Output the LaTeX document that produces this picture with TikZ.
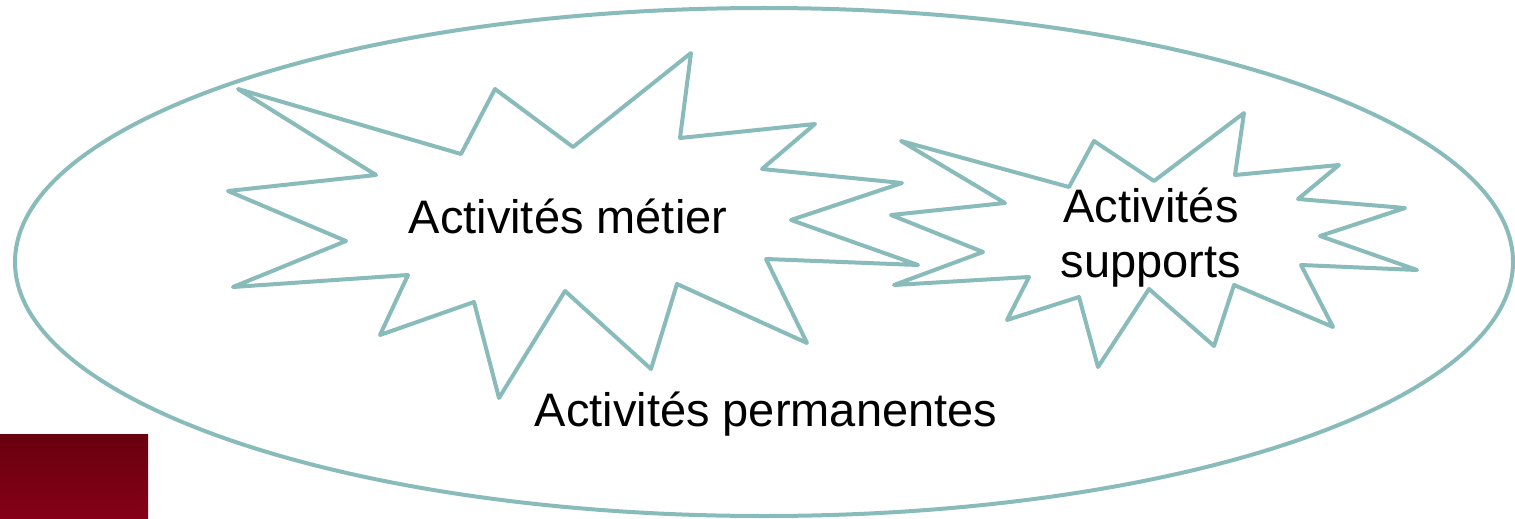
\documentclass[tikz,border=0pt]{standalone}
\usepackage{fontspec}
\setmainfont{Liberation Sans}
\definecolor{burstline}{RGB}{137,187,187}
\definecolor{redtop}{RGB}{104,0,14}
\definecolor{redbot}{RGB}{134,0,24}
\tikzset{
  burst/.style={draw=burstline, line width=4pt, line join=round},
  label/.style={inner sep=0pt, font=\fontsize{47}{55}\selectfont}
}
\begin{document}
\begin{tikzpicture}[x=1pt, y=-1pt]
\useasboundingbox (0,0) rectangle (1515,519);
\shade[top color=redtop, bottom color=redbot] (0,434) rectangle (148,519);
\draw[burst] (764,262) ellipse [x radius=749, y radius=254];
% activites metier
\draw[burst] (238,89) -- (461,154) -- (495,89) -- (573,147) -- (691,53)
  -- (680,138) -- (815,124) -- (762,169) -- (902,183) -- (791,220)
  -- (918,265) -- (766,259) -- (807,343) -- (677,284) -- (651,369)
  -- (565,291) -- (499,398) -- (474,302) -- (380,335) -- (408,275)
  -- (233,287) -- (346,241) -- (228,191) -- (376,175) -- cycle;
% activites supports
\draw[burst] (901,141) -- (1069,187) -- (1094,141) -- (1154,181) -- (1244,113)
  -- (1235,175) -- (1339,165) -- (1298,199) -- (1405,208) -- (1320,236)
  -- (1417,270) -- (1301,265) -- (1333,327) -- (1234,285) -- (1214,346)
  -- (1149,289) -- (1098,367) -- (1079,297) -- (1007,320) -- (1029,277)
  -- (894,285) -- (983,252) -- (891,215) -- (1005,203) -- cycle;
\node[label, anchor=base] (metier) at (568,233) {Activités métier};
\node[label, align=center] (supports) at (1151,238) {Activités\\supports};
\node[label, anchor=base] (permanentes) at (766,426) {Activités permanentes};
\end{tikzpicture}
\end{document}
